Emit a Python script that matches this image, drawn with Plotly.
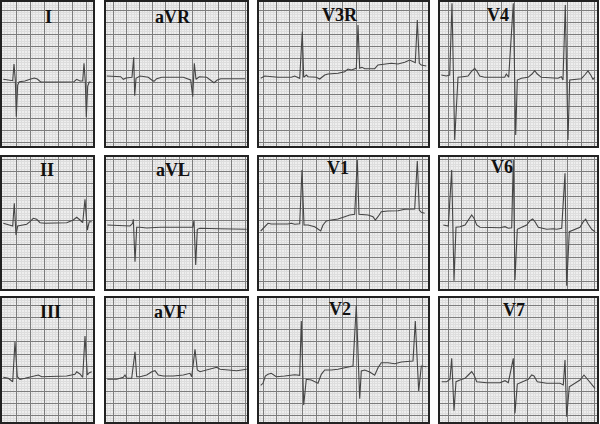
import plotly.graph_objects as go

# ---- ECG lead data (time offset within strip, amplitude offset) ----
I_t = [1.3, 4.7, 10.7, 12, 13.3, 14.3, 15.7, 17.3, 23, 28, 32.3, 35.3, 38.7, 48, 64.7, 72, 74.7, 78, 80.7, 82, 83.3, 84.3, 85.7, 87.3, 88.7]
I_v = [77.3, 78, 78.7, 62, 78, 114.7, 83, 79.7, 79, 77.3, 76, 77, 80, 80, 80, 79.7, 77.3, 79, 79, 61.3, 79.7, 115.3, 84, 80, 80]

aVR_t = [0.7, 14.7, 17.3, 20, 26, 27.7, 28.7, 30, 34, 42.3, 45.7, 48, 50.7, 55.7, 77.3, 82.3, 84.7, 86.7, 88.3, 90, 93.3, 100.7, 104.7, 108, 111.3, 114.7, 127.3, 139]
aVR_v = [74, 74.7, 77.3, 76, 75.3, 55.3, 93.7, 76.3, 74, 75.3, 78, 79.3, 76.7, 75.3, 75.3, 76.7, 78, 94.7, 61.3, 77.3, 74.7, 75.3, 78, 80.7, 78, 76.7, 76.7, 76.7]

V3R_t = [1.7, 5.7, 19, 32.3, 35.7, 40.7, 43.3, 44.7, 47.3, 49, 57.3, 60.7, 65.7, 69, 79, 85.7, 89, 92.3, 97.3, 99, 100.7, 103, 105.7, 115.7, 119, 125.7, 132.3, 139, 145.7, 150.7, 154, 156.3, 158.3, 160.3, 162.3, 167.3]
V3R_v = [76.3, 74, 75.3, 75.3, 74, 76.3, 29.7, 75.3, 73, 74.7, 75.3, 77, 73, 72, 71.3, 69.7, 67, 68, 66.3, 23, 66.3, 65.3, 66.7, 66.7, 63, 62.3, 61.3, 62, 60.3, 58, 59.7, 60.7, 18, 61.3, 63, 64]

V4_t = [1.3, 6.3, 9.7, 12, 14.7, 18, 23, 28, 31.3, 34.7, 37.3, 39.7, 44.7, 64.7, 66.3, 68.7, 73.3, 75.7, 77.3, 81.3, 88, 92, 94.7, 97.3, 101.3, 118, 121.3, 123, 125.3, 128, 129.7, 134.7, 141.3, 144.7, 148, 150.7, 153, 154.7]
V4_v = [73, 74, 73, 1.3, 138, 75.3, 74.7, 74, 69.7, 66.3, 69.7, 74, 75.3, 75.3, 72, 75.3, 1.3, 133, 78, 76.3, 75.3, 72, 68.7, 72, 75.3, 76.3, 74.7, 78, 3, 138, 78, 77.3, 76.7, 73, 69, 73, 77.3, 75.3]

II_t = [1.3, 6.3, 10.7, 12.3, 14, 15.7, 19.7, 24.7, 28, 31.3, 34.7, 38, 43, 64.7, 71.3, 74.7, 78, 80.7, 83, 85.3, 87.3, 89.7]
II_v = [66.3, 68, 69, 46.3, 78, 69, 68, 67.3, 64.7, 61.3, 62.3, 65.7, 66.3, 65.7, 63, 60.3, 63, 65.7, 42.3, 73, 64.7, 64.7]

aVL_t = [1.3, 10.7, 24, 26.7, 27.3, 29, 30.7, 34, 40.7, 54, 80.7, 86.7, 88, 89.7, 91.3, 94, 113.3, 140.7]
aVL_v = [68, 68.3, 69, 66.3, 62.3, 104.7, 70.3, 70.3, 71, 70.3, 70.7, 70.3, 63.7, 108, 72.3, 71.3, 71.7, 72.3]

V1_t = [1.7, 5.7, 9, 12.3, 19, 29, 32.3, 35.7, 40.7, 43, 45, 49, 55.7, 59, 61.7, 64, 67.3, 72.3, 79, 85.7, 90.7, 95.7, 98.3, 100, 104, 109, 114, 116.3, 119, 122.3, 129, 139, 145.7, 154, 155.7, 158.3, 160.3, 162.3, 165.7]
V1_v = [74, 69.7, 66.3, 67, 67.3, 67, 66.3, 67.3, 66.7, 13, 68, 68, 69.7, 72, 74, 68, 64, 63, 62, 59.7, 58, 57.3, 3, 57.3, 57.3, 58, 59.7, 63, 59.7, 54.7, 54, 53.7, 52.3, 52.3, 52, 4, 53, 55.3, 56.3]

V6_t = [3.3, 8.3, 11.7, 14, 16, 20, 25, 28.3, 31.7, 34, 36.7, 40, 60, 65, 68.3, 71.7, 73.3, 75, 77.3, 81.7, 86.7, 90, 92.7, 95, 98.3, 106.7, 113.3, 116.7, 121.7, 125, 126.7, 129.3, 133.3, 140, 143.3, 145.7, 147.7, 151.7, 155]
V6_v = [68, 69, 13, 123.7, 70.3, 69.7, 68, 63, 58, 61.3, 68, 70.3, 70.7, 69.7, 71.3, 70.7, 3, 123, 72.3, 70.3, 68, 63.7, 62, 64.7, 70.3, 72.3, 71.7, 72.3, 71.3, 16.3, 128.7, 74.7, 73, 70.3, 64.7, 62.3, 66.3, 72.3, 74.7]

III_t = [1.3, 6.3, 10.7, 13, 15.3, 18, 23, 28, 33, 36.3, 39.7, 48, 64.7, 73, 74.7, 78, 80.7, 83, 85.3, 87.3, 89.7]
III_v = [79.3, 80.3, 83.7, 43.7, 78.7, 81.3, 80.3, 79.3, 78, 77, 78.7, 78.7, 78, 76.3, 73.7, 76, 79.3, 38, 77, 74.7, 73.7]

aVF_t = [1.3, 10.7, 17.3, 19, 20.7, 25.7, 29, 30.7, 34, 40.7, 45.7, 49, 52.3, 57.3, 67.3, 77.3, 84, 85.7, 89, 91.3, 94, 100.7, 107.3, 110.7, 114, 120.7, 130.7, 140.7]
aVF_v = [81.3, 81.3, 79.3, 77, 80.3, 80.3, 53.7, 78.7, 78.7, 77, 73.7, 72.7, 77, 78, 78, 77, 75.3, 78.7, 51.3, 72, 73.7, 72, 70.3, 69.3, 71.3, 72, 72.7, 71.3]

V2_t = [1.7, 4, 6.3, 9, 12.3, 17.3, 25.7, 35.7, 40.7, 42.3, 44.7, 47.3, 52.3, 55.7, 59, 62.3, 65.7, 72.3, 79, 85.7, 90.7, 94, 97.3, 100.7, 102.3, 105.7, 110.7, 115.7, 119, 122.3, 129, 135.7, 142.3, 149, 154, 156.3, 159.7, 162.3, 167.3]
V2_v = [87.3, 85.3, 78, 76.3, 75.3, 78.7, 78, 76.7, 77.3, 23, 107, 81.3, 82, 84, 85.3, 76.3, 72, 72, 71.3, 69.7, 68.7, 68, 7.3, 100.7, 73, 72, 74, 77.3, 69.7, 64.7, 64.7, 65.7, 64, 63, 63, 23, 93, 68, 68.7]

V7_t = [1.7, 6.7, 10, 11.7, 14, 16, 20, 25, 28.3, 31.7, 34, 36.7, 46.7, 60, 65, 68.3, 73.3, 75, 77.3, 83.3, 88.3, 91.7, 94, 97.3, 106.7, 120, 123.3, 125, 126.7, 129.3, 133.3, 140, 144, 146.7, 150, 155]
V7_v = [83.7, 83.7, 81.3, 60.3, 112.7, 83.7, 82, 80.3, 77, 73.7, 77, 83.7, 84.7, 84.7, 82.7, 84.7, 60.3, 115.3, 86, 83.7, 81.3, 77, 78, 83.7, 85.3, 85.3, 87, 62, 118.7, 88.7, 86, 82, 77, 80.3, 85.3, 90.3]

lead_names = ["I", "aVR", "V3R", "V4", "II", "aVL", "V1", "V6", "III", "aVF", "V2", "V7"]
lead_t = [I_t, aVR_t, V3R_t, V4_t, II_t, aVL_t, V1_t, V6_t, III_t, aVF_t, V2_t, V7_t]
lead_v = [I_v, aVR_v, V3R_v, V4_v, II_v, aVL_v, V1_v, V6_v, III_v, aVF_v, V2_v, V7_v]

# ---- layout geometry (pixels in a 600x424 canvas) ----
W, H = 600, 424
col_x = [(2, 93), (106, 247), (259, 428), (440, 597)]
row_y = [(2, 146), (157, 289), (298, 422)]
col_grid = [(0, 14.0), (7, 13.2), (4, 13.3), (8, 13.3)]
row_grid = [(8, 12.0), (2.5, 12.2), (7, 12.3)]
title_pos = [(48, 17), (173, 17), (340, 15), (498, 15),
             (47, 170), (173, 170), (338, 168), (502, 167),
             (50, 312), (170, 312), (340, 309), (514, 310)]

fig = go.Figure()
annotations = []
for i, name in enumerate(lead_names):
    r, c = divmod(i, 4)
    x0, x1 = col_x[c]
    y0, y1 = row_y[r]
    w, h = x1 - x0, y1 - y0
    ax = "" if i == 0 else str(i + 1)
    fig.add_trace(go.Scatter(x=lead_t[i], y=lead_v[i], mode="lines",
                             line=dict(color="#454545", width=1.1),
                             xaxis="x" + ax, yaxis="y" + ax,
                             hoverinfo="skip", showlegend=False))
    gx0, gdx = col_grid[c]
    gy0, gdy = row_grid[r]
    common = dict(showticklabels=False, ticks="", zeroline=False,
                  showline=True, mirror=True, linecolor="#222222", linewidth=2,
                  showgrid=True, gridcolor="#7c7c7c", gridwidth=1, fixedrange=True)
    fig.layout["xaxis" + ax] = dict(domain=[x0 / W, x1 / W], range=[0, w],
                                    anchor="y" + ax, tick0=gx0, dtick=gdx,
                                    minor=dict(tick0=gx0, dtick=gdx / 5, showgrid=True,
                                               gridcolor="#dddddd", gridwidth=1),
                                    **common)
    fig.layout["yaxis" + ax] = dict(domain=[1 - y1 / H, 1 - y0 / H], range=[h, 0],
                                    anchor="x" + ax, tick0=gy0, dtick=gdy,
                                    minor=dict(tick0=gy0, dtick=gdy / 5, showgrid=True,
                                               gridcolor="#dddddd", gridwidth=1),
                                    **common)
    tx, ty = title_pos[i]
    annotations.append(dict(text="<b>" + name + "</b>", x=tx - x0, y=ty - y0,
                            xref="x" + ax, yref="y" + ax, showarrow=False,
                            xanchor="center", yanchor="middle",
                            font=dict(family="Liberation Serif", size=18, color="#111")))

fig.update_layout(width=W, height=H, margin=dict(l=0, r=0, t=0, b=0),
                  paper_bgcolor="white", plot_bgcolor="#eeeeee",
                  annotations=annotations, showlegend=False)
fig.write_html("out.html", config={"displayModeBar": False},
               post_script="document.body.style.margin='0px';")
